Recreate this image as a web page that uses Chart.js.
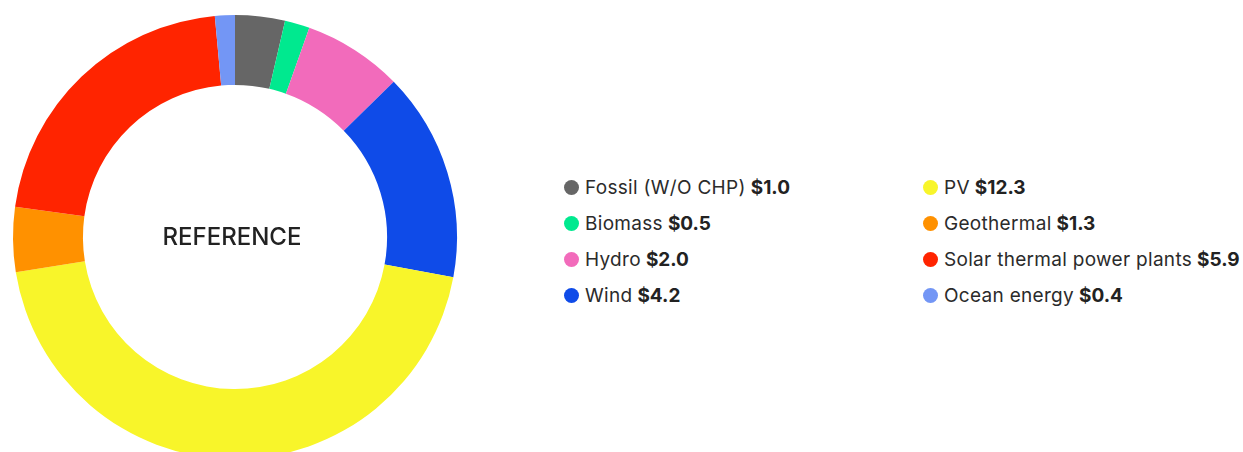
<!DOCTYPE html>
<html>
<head>
<meta charset="utf-8">
<script src="https://cdn.jsdelivr.net/npm/chart.js@4/dist/chart.umd.min.js"></script>
<style>
  html, body { margin: 0; padding: 0; background: #fff; overflow: hidden; }
  body { width: 1243px; height: 452px; position: relative; font-family: Inter, "Noto Sans", sans-serif; }
  #chart-wrap { position: absolute; left: 0; top: 0; width: 470px; height: 474px; }
  #legend { position: absolute; left: 564px; top: 175px; display: grid; grid-template-columns: 359px auto; row-gap: 12.3px; }
  .item { display: flex; align-items: center; font-size: 19px; letter-spacing: 0.3px; color: #2b2b2b; height: 24px; white-space: nowrap; }
  .dot { width: 15px; height: 15px; border-radius: 50%; margin-right: 6px; flex: none; }
  .item b { font-weight: 700; margin-left: 5px; color: #222; letter-spacing: 0; }
</style>
</head>
<body>
<div id="chart-wrap"><canvas id="donut"></canvas></div>
<div id="legend"></div>
<script>
const labels = ['Fossil (W/O CHP)', 'Biomass', 'Hydro', 'Wind', 'PV', 'Geothermal', 'Solar thermal power plants', 'Ocean energy'];
const values = [1.0, 0.5, 2.0, 4.2, 12.3, 1.3, 5.9, 0.4];
const colors = ['#666666', '#00E98F', '#F26BBB', '#0F4BE8', '#F8F52A', '#FF9100', '#FF2400', '#7396F5'];
const centerLabel = 'REFERENCE';

// legend: two columns, first four on the left, rest on the right
const legend = document.getElementById('legend');
const half = Math.ceil(labels.length / 2);
for (let row = 0; row < half; row++) {
  [row, row + half].forEach(i => {
    if (i >= labels.length) return;
    const item = document.createElement('div');
    item.className = 'item';
    item.innerHTML = `<span class="dot" style="background:${colors[i]}"></span>${labels[i]}<b>$${values[i].toFixed(1)}</b>`;
    legend.appendChild(item);
  });
}

const centerText = {
  id: 'centerText',
  afterDraw(chart) {
    const { ctx } = chart;
    const meta = chart.getDatasetMeta(0).data[0];
    ctx.save();
    ctx.font = '500 24px Inter, "Noto Sans", sans-serif';
    ctx.fillStyle = '#222';
    ctx.textAlign = 'center';
    ctx.textBaseline = 'middle';
    ctx.fillText(centerLabel, meta.x - 3, meta.y + 1);
    ctx.restore();
  }
};

new Chart(document.getElementById('donut').getContext('2d'), {
  type: 'doughnut',
  data: {
    labels: labels,
    datasets: [{
      data: values,
      backgroundColor: colors,
      borderWidth: 0
    }]
  },
  options: {
    responsive: true,
    maintainAspectRatio: false,
    animation: false,
    cutout: '68.5%',
    layout: { padding: 13 },
    plugins: {
      legend: { display: false },
      tooltip: { enabled: false }
    }
  },
  plugins: [centerText]
});
</script>
</body>
</html>
